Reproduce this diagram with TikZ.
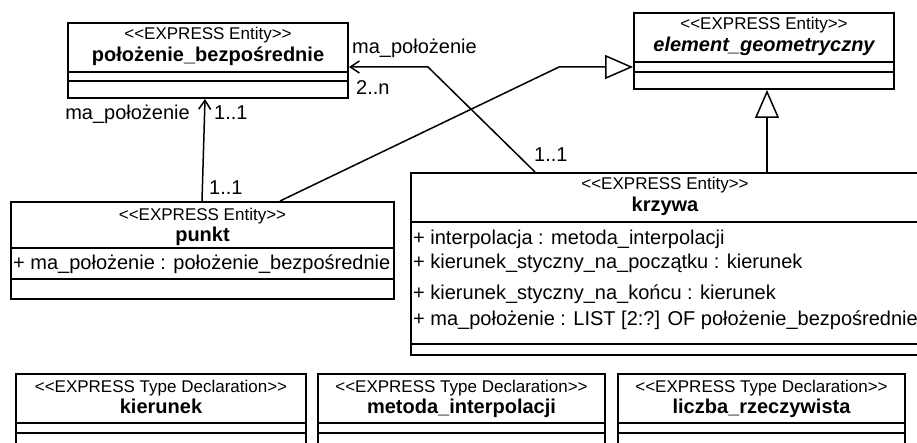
\documentclass[tikz,border=0pt]{standalone}
\usepackage{fontspec}
\setmainfont{Liberation Sans}
\usetikzlibrary{arrows.meta}
\newcommand\stereoEntity{<\kern0pt<EXPRESS Entity>\kern0pt>}
\newcommand\stereoType{<\kern0pt<EXPRESS Type Declaration>\kern0pt>}
\begin{document}
\begin{tikzpicture}[x=1pt,y=-1pt,
  classbox/.style={draw, line width=2pt, rectangle, inner sep=0pt, anchor=north west},
  divider/.style={line width=1.3pt},
  stereo/.style={font=\fontsize{17}{20}\selectfont, anchor=base, inner sep=0pt},
  cname/.style={font=\fontsize{20}{24}\selectfont\bfseries, anchor=base, inner sep=0pt},
  attr/.style={font=\fontsize{20}{24}\selectfont, anchor=base west, inner sep=0pt},
  lbl/.style={font=\fontsize{20}{24}\selectfont, inner sep=0pt},
  assoc/.style={line width=1.5pt, -{Straight Barb[length=9pt,width=12pt]}},
  gen/.style={line width=1.5pt, -{Triangle[open,length=28pt,width=24pt,fill=white]}},
]
\useasboundingbox (0,0) rectangle (917,443);
\clip (0,0) rectangle (917,443);

% położenie_bezpośrednie
\node[classbox, minimum width=280pt, minimum height=75pt] (pb) at (67,22) {};
\draw[divider] ([yshift=-50pt]pb.north west) -- ([yshift=-50pt]pb.north east);
\draw[divider] ([yshift=-59pt]pb.north west) -- ([yshift=-59pt]pb.north east);
\node[stereo] (pbs) at ([yshift=-18pt]pb.north) {\stereoEntity};
\node[cname] (pbn) at ([yshift=-40pt]pb.north) {położenie\_bezpośrednie};

% element_geometryczny
\node[classbox, minimum width=260pt, minimum height=76pt] (eg) at (633,12) {};
\draw[divider] ([yshift=-50pt]eg.north west) -- ([yshift=-50pt]eg.north east);
\draw[divider] ([yshift=-60pt]eg.north west) -- ([yshift=-60pt]eg.north east);
\node[stereo] (egs) at ([yshift=-18pt]eg.north) {\stereoEntity};
\node[cname, font=\fontsize{20}{24}\selectfont\bfseries\itshape] (egn) at ([yshift=-40pt]eg.north) {element\_geometryczny};

% punkt
\node[classbox, minimum width=383pt, minimum height=97pt] (pt) at (10,201) {};
\draw[divider] ([yshift=-47pt]pt.north west) -- ([yshift=-47pt]pt.north east);
\draw[divider] ([yshift=-78pt]pt.north west) -- ([yshift=-78pt]pt.north east);
\node[stereo] (pts) at ([yshift=-20pt]pt.north) {\stereoEntity};
\node[cname] (ptn) at ([yshift=-41pt]pt.north) {punkt};
\node[attr] (pta) at (13,270) {+ ma\_położenie : położenie\_bezpośrednie};

% krzywa
\node[classbox, minimum width=508pt, minimum height=182pt] (kr) at (410,172) {};
\draw[divider] ([yshift=-50pt]kr.north west) -- ([yshift=-50pt]kr.north east);
\draw[divider] ([yshift=-172pt]kr.north west) -- ([yshift=-172pt]kr.north east);
\node[stereo] (krs) at ([yshift=-18pt]kr.north) {\stereoEntity};
\node[cname] (krn) at ([yshift=-40pt]kr.north) {krzywa};
\node[attr] (kra1) at (413,245) {+ interpolacja : metoda\_interpolacji};
\node[attr] (kra2) at (413,269) {+ kierunek\_styczny\_na\_początku : kierunek};
\node[attr] (kra3) at (413,299) {+ kierunek\_styczny\_na\_końcu : kierunek};
\node[attr] (kra4) at (413,325) {+ ma\_położenie : LIST [2:?] OF położenie\_bezpośrednie};

% type declarations
\node[classbox, minimum width=290pt, minimum height=90pt] (td1) at (15,373) {};
\node[classbox, minimum width=287pt, minimum height=90pt] (td2) at (317,373) {};
\node[classbox, minimum width=287pt, minimum height=90pt] (td3) at (617,373) {};
\foreach \b in {td1,td2,td3}{
  \draw[divider] ([yshift=-50pt]\b.north west) -- ([yshift=-50pt]\b.north east);
  \draw[divider] ([yshift=-60pt]\b.north west) -- ([yshift=-60pt]\b.north east);
  \node[stereo] at ([yshift=-19pt]\b.north) {\stereoType};
}
\node[cname] (td1n) at ([yshift=-40pt]td1.north) {kierunek};
\node[cname] (td2n) at ([yshift=-40pt]td2.north) {metoda\_interpolacji};
\node[cname] (td3n) at ([yshift=-40pt]td3.north) {liczba\_rzeczywista};

% associations
\draw[assoc] ([xshift=-6pt]pt.north -| pb.south) -- ([xshift=-3pt]pb.south);
\node[lbl, anchor=base east] (l1) at (190,120) {ma\_położenie};
\node[lbl, anchor=base west] (l2) at (214,120) {1..1};
\node[lbl, anchor=base west] (l3) at (209,195) {1..1};

\coordinate (b1) at (428,67);
\draw[assoc] ([xshift=125pt]kr.north west) -- (b1) -- (pb.east |- b1);
\node[lbl, anchor=base west] (l4) at (352,54) {ma\_położenie};
\node[lbl, anchor=base west] (l5) at (356,95) {2..n};
\node[lbl, anchor=base west] (l6) at (534,162) {1..1};

% generalizations
\coordinate (b2) at (559,67);
\draw[gen] ([xshift=270pt]pt.north west) -- (b2) -- (eg.west |- b2);
\draw[gen] ([xshift=357pt]kr.north west) -- ([xshift=357pt]kr.north west |- eg.south);
\end{tikzpicture}
\end{document}
